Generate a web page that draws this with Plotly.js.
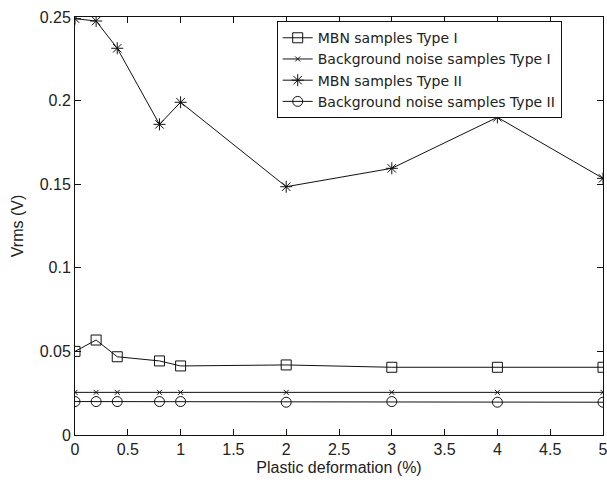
<!DOCTYPE html>
<html>
<head>
<meta charset="utf-8">
<script src="https://cdn.plot.ly/plotly-3.0.1.min.js"></script>
<style>html,body{margin:0;padding:0;background:#fff;}#chart{width:607px;height:482px;}</style>
</head>
<body>
<div id="chart"></div>
<script>
const deformation = [0, 0.2, 0.4, 0.8, 1, 2, 3, 4, 5];
const mbnTypeI = [0.050, 0.0568, 0.0468, 0.0443, 0.0413, 0.0419, 0.0405, 0.0405, 0.0405];
const noiseTypeI = [0.0255, 0.0255, 0.0255, 0.0255, 0.0255, 0.0255, 0.0255, 0.0255, 0.0255];
const mbnTypeII = [0.249, 0.2476, 0.2313, 0.1858, 0.199, 0.1485, 0.1595, 0.190, 0.1535];
const noiseTypeII = [0.020, 0.020, 0.020, 0.020, 0.020, 0.0196, 0.020, 0.0196, 0.0196];
const seriesNames = ["MBN samples Type I", "Background noise samples Type I", "MBN samples Type II", "Background noise samples Type II"];
const xTicks = [0, 0.5, 1, 1.5, 2, 2.5, 3, 3.5, 4, 4.5, 5];
const yTicks = [0, 0.05, 0.1, 0.15, 0.2, 0.25];
const yTickText = ["0", "0.05", "0.1", "0.15", "0.2", "0.25"];

const lineStyle = {color: "#111", width: 1};
function mk(symbol, size) {
  return {symbol: symbol, size: size, color: "#111", line: {color: "#111", width: 1}};
}
const traces = [
  {x: deformation, y: mbnTypeI, name: seriesNames[0], mode: "lines+markers", line: lineStyle, marker: mk("square-open", 10)},
  {x: deformation, y: noiseTypeI, name: seriesNames[1], mode: "lines+markers", line: lineStyle, marker: mk("x-thin-open", 5)},
  {x: deformation, y: mbnTypeII, name: seriesNames[2], mode: "lines+markers", line: lineStyle, marker: mk("asterisk-open", 10)},
  {x: deformation, y: noiseTypeII, name: seriesNames[3], mode: "lines+markers", line: lineStyle, marker: mk("circle-open", 10)}
];

const font = {family: "Liberation Sans, Arial, sans-serif", size: 16, color: "#222"};
const legendFont = {family: "DejaVu Sans, sans-serif", size: 14, color: "#222"};
const layout = {
  width: 607, height: 482,
  margin: {l: 75, r: 4, t: 17, b: 47},
  paper_bgcolor: "#fff", plot_bgcolor: "#fff",
  font: font,
  showlegend: true,
  legend: {x: 0.382, y: 0.99, xanchor: "left", yanchor: "top", bgcolor: "#fff", bordercolor: "#111", borderwidth: 1, font: legendFont, tracegroupgap: 0},
  xaxis: {
    range: [0, 5], tickvals: xTicks, ticks: "inside", ticklen: 6, tickcolor: "#111", ticklabeloverflow: "allow",
    showline: true, linecolor: "#111", linewidth: 1, mirror: "ticks", showgrid: false, zeroline: false,
    title: {text: "Plastic deformation (%)", font: font, standoff: 4}
  },
  yaxis: {
    range: [0, 0.25], tickvals: yTicks, ticktext: yTickText, ticks: "inside", ticklen: 6, tickcolor: "#111",
    showline: true, linecolor: "#111", linewidth: 1, mirror: "ticks", showgrid: false, zeroline: false,
    title: {text: "Vrms (V)", font: font, standoff: 12}
  }
};
Plotly.newPlot("chart", traces, layout, {displayModeBar: false, staticPlot: true});
</script>
</body>
</html>
